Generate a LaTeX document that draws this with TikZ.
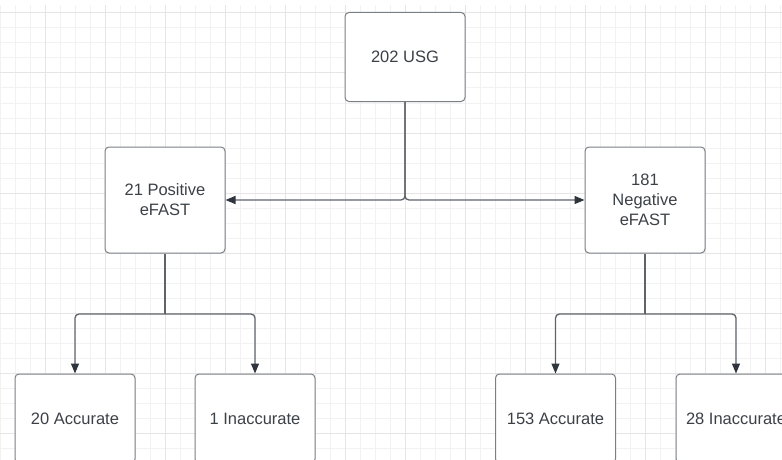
\documentclass[tikz,border=0pt]{standalone}
\usepackage{fontspec}
\setmainfont{Liberation Sans}
\usetikzlibrary{arrows.meta}
\definecolor{gridminor}{HTML}{F2F2F2}
\definecolor{gridmajor}{HTML}{E5E5E5}
\definecolor{boxline}{HTML}{7A7F86}
\definecolor{conn}{HTML}{5F646B}
\definecolor{tip}{HTML}{2F353D}
\definecolor{txt}{HTML}{3C4148}
\tikzset{
  box/.style={draw=boxline, line width=1pt, rounded corners=4pt, fill=white,
    minimum width=120pt, text=txt, align=center,
    font=\fontsize{16.5pt}{19.8pt}\selectfont},
  topbox/.style={box, minimum height=89pt},
  midbox/.style={box, minimum height=106pt},
  conn/.style={draw=conn, line width=1.3pt, rounded corners=4pt,
    -{Triangle[length=10pt,width=8pt,fill=tip,color=tip]}},
  plain/.style={draw=conn, line width=1.3pt, rounded corners=4pt}
}
\begin{document}
\begin{tikzpicture}[x=1pt,y=-1pt]
\useasboundingbox (0,0) rectangle (782,460);
\clip (0,0) rectangle (782,460);
\fill[white] (0,0) rectangle (782,460);
% grid
\foreach \x in {0,15,...,780} \draw[gridminor, line width=1pt] (\x,5) -- (\x,460);
\foreach \y in {13,28,...,458} \draw[gridminor, line width=1pt] (0,\y) -- (782,\y);
\foreach \x in {45,105,...,765} \draw[gridmajor, line width=1pt] (\x,5) -- (\x,460);
\foreach \y in {13,73,...,433} \draw[gridmajor, line width=1pt] (0,\y) -- (782,\y);
% nodes
\node[topbox] (usg) at (405,57) {202 USG};
\node[midbox] (pos) at (165,200) {21 Positive\\eFAST};
\node[midbox] (neg) at (645,200) {181\\Negative\\eFAST};
\node[topbox] (acc1) at (75,418.5) {20 Accurate};
\node[topbox] (inacc1) at (255,418.5) {1 Inaccurate};
\node[topbox] (acc2) at (555.5,418.5) {153 Accurate};
\node[topbox] (inacc2) at (736,418.5) {28 Inaccurate};
% connectors
\draw[conn] (usg.south) |- (pos.east);
\draw[conn] (usg.south) |- (neg.west);
\coordinate (lsplit) at (165,314);
\coordinate (rsplit) at (645,314);
\draw[plain] (pos.south) -- (lsplit);
\draw[conn] (lsplit) -| (acc1.north);
\draw[conn] (lsplit) -| (inacc1.north);
\draw[plain] (neg.south) -- (rsplit);
\draw[conn] (rsplit) -| (acc2.north);
\draw[conn] (rsplit) -| (inacc2.north);
\end{tikzpicture}
\end{document}
